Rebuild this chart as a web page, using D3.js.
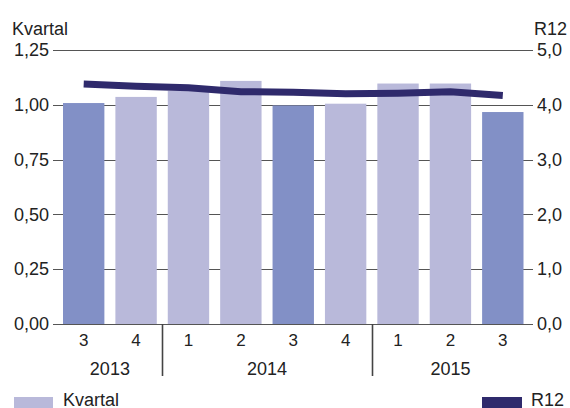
<!DOCTYPE html>
<html lang="en">
  <head>
    <meta charset="utf-8">
    <title>Kvartal / R12</title>
    <script src="https://cdn.jsdelivr.net/npm/d3@7"></script>
    <style>
      body { margin: 0; background: #fff; }
      text { font-family: "Liberation Sans", Arial, sans-serif; fill: #222; }
      .grid line { stroke: #555; stroke-width: 1.6; shape-rendering: crispEdges; }
    </style>
  </head>
  <body>
    <script>
      var w = 570, h = 408;

      // data
      var years    = ["2013", "2013", "2014", "2014", "2014", "2014", "2015", "2015", "2015"];
      var quarters = ["3", "4", "1", "2", "3", "4", "1", "2", "3"];
      var kvartal  = [1.008, 1.036, 1.064, 1.109, 0.997, 1.005, 1.097, 1.097, 0.967];
      var r12      = [4.38, 4.34, 4.31, 4.24, 4.23, 4.20, 4.21, 4.24, 4.17];
      var leftTicks  = [0, 0.25, 0.5, 0.75, 1.0, 1.25];
      var rightTicks = [0, 1, 2, 3, 4, 5];

      var keys = quarters.map(function(q, i) { return years[i] + "-" + q; });

      var xScale = d3.scaleBand()
        .domain(keys)
        .range([57.5, 529])
        .paddingInner(0.21)
        .paddingOuter(0.105);

      var yLeft = d3.scaleLinear().domain([0, 1.25]).range([324, 50]);
      var yRight = d3.scaleLinear().domain([0, 5]).range([324, 50]);

      var fmtL = function(d) { return d3.format(".2f")(d).replace(".", ","); };
      var fmtR = function(d) { return d3.format(".1f")(d).replace(".", ","); };

      var svg = d3.select("body").append("svg")
        .attr("width", w)
        .attr("height", h);

      // gridlines
      svg.append("g").attr("class", "grid")
        .selectAll("line")
        .data(leftTicks)
        .enter().append("line")
        .attr("x1", 53)
        .attr("x2", 533)
        .attr("y1", function(d) { return Math.round(yLeft(d)) + 0.5; })
        .attr("y2", function(d) { return Math.round(yLeft(d)) + 0.5; });

      // axis labels
      var leftAxis = d3.axisLeft(yLeft).tickValues(leftTicks).tickFormat(fmtL).tickSize(0).tickPadding(0);
      var gl = svg.append("g").attr("transform", "translate(49,0)").call(leftAxis);
      gl.select(".domain").remove();
      gl.selectAll("text").style("font-size", "18px").attr("fill", "#222")
        .attr("font-family", "Liberation Sans, Arial, sans-serif");

      var rightAxis = d3.axisRight(yRight).tickValues(rightTicks).tickFormat(fmtR).tickSize(0).tickPadding(0);
      var gr = svg.append("g").attr("transform", "translate(537,0)").call(rightAxis);
      gr.select(".domain").remove();
      gr.selectAll("text").style("font-size", "18px").attr("fill", "#222")
        .attr("font-family", "Liberation Sans, Arial, sans-serif");

      // bars
      svg.selectAll("rect.bar")
        .data(kvartal)
        .enter().append("rect")
        .attr("class", "bar")
        .attr("x", function(d, i) { return xScale(keys[i]); })
        .attr("width", xScale.bandwidth())
        .attr("y", function(d) { return yLeft(d); })
        .attr("height", function(d) { return yLeft(0) - yLeft(d); })
        .attr("fill", function(d, i) { return quarters[i] === "3" ? "#8290c6" : "#b9b9da"; });

      // R12 line
      var line = d3.line()
        .x(function(d, i) { return xScale(keys[i]) + xScale.bandwidth() / 2; })
        .y(function(d) { return yRight(d); });

      svg.append("path")
        .datum(r12)
        .attr("d", line)
        .attr("fill", "none")
        .attr("stroke", "#2f2a6c")
        .attr("stroke-width", 7);

      // quarter labels
      svg.selectAll("text.q")
        .data(quarters)
        .enter().append("text")
        .attr("class", "q")
        .attr("x", function(d, i) { return xScale(keys[i]) + xScale.bandwidth() / 2; })
        .attr("y", 346)
        .attr("text-anchor", "middle")
        .style("font-size", "17px")
        .text(function(d) { return d; });

      // year labels and separators
      var yearList = [];
      years.forEach(function(y) { if (yearList.indexOf(y) < 0) yearList.push(y); });

      yearList.forEach(function(y, j) {
        var idx = [];
        years.forEach(function(yy, i) { if (yy === y) idx.push(i); });
        var cx = d3.mean(idx, function(i) { return xScale(keys[i]) + xScale.bandwidth() / 2; });
        svg.append("text")
          .attr("x", cx)
          .attr("y", 375)
          .attr("text-anchor", "middle")
          .style("font-size", "18px")
          .text(y);
        if (j > 0) {
          var sx = Math.round(xScale(keys[idx[0]]) - xScale.step() * xScale.paddingInner() / 2) + 0.5;
          svg.append("line")
            .attr("x1", sx).attr("x2", sx)
            .attr("y1", 324).attr("y2", 376)
            .attr("stroke", "#444")
            .attr("stroke-width", 1.6);
        }
      });

      // axis titles
      svg.append("text").attr("x", 12).attr("y", 35).style("font-size", "18px").text("Kvartal");
      svg.append("text").attr("x", 567).attr("y", 35).attr("text-anchor", "end").style("font-size", "18px").text("R12");

      // legend
      svg.append("rect").attr("x", 14).attr("y", 397).attr("width", 39).attr("height", 11).attr("fill", "#b9b9da");
      svg.append("text").attr("x", 63).attr("y", 406).style("font-size", "18px").text("Kvartal");
      svg.append("rect").attr("x", 482).attr("y", 397).attr("width", 40).attr("height", 11).attr("fill", "#2f2a6c");
      svg.append("text").attr("x", 531).attr("y", 406).style("font-size", "18px").text("R12");
    </script>
  </body>
</html>
